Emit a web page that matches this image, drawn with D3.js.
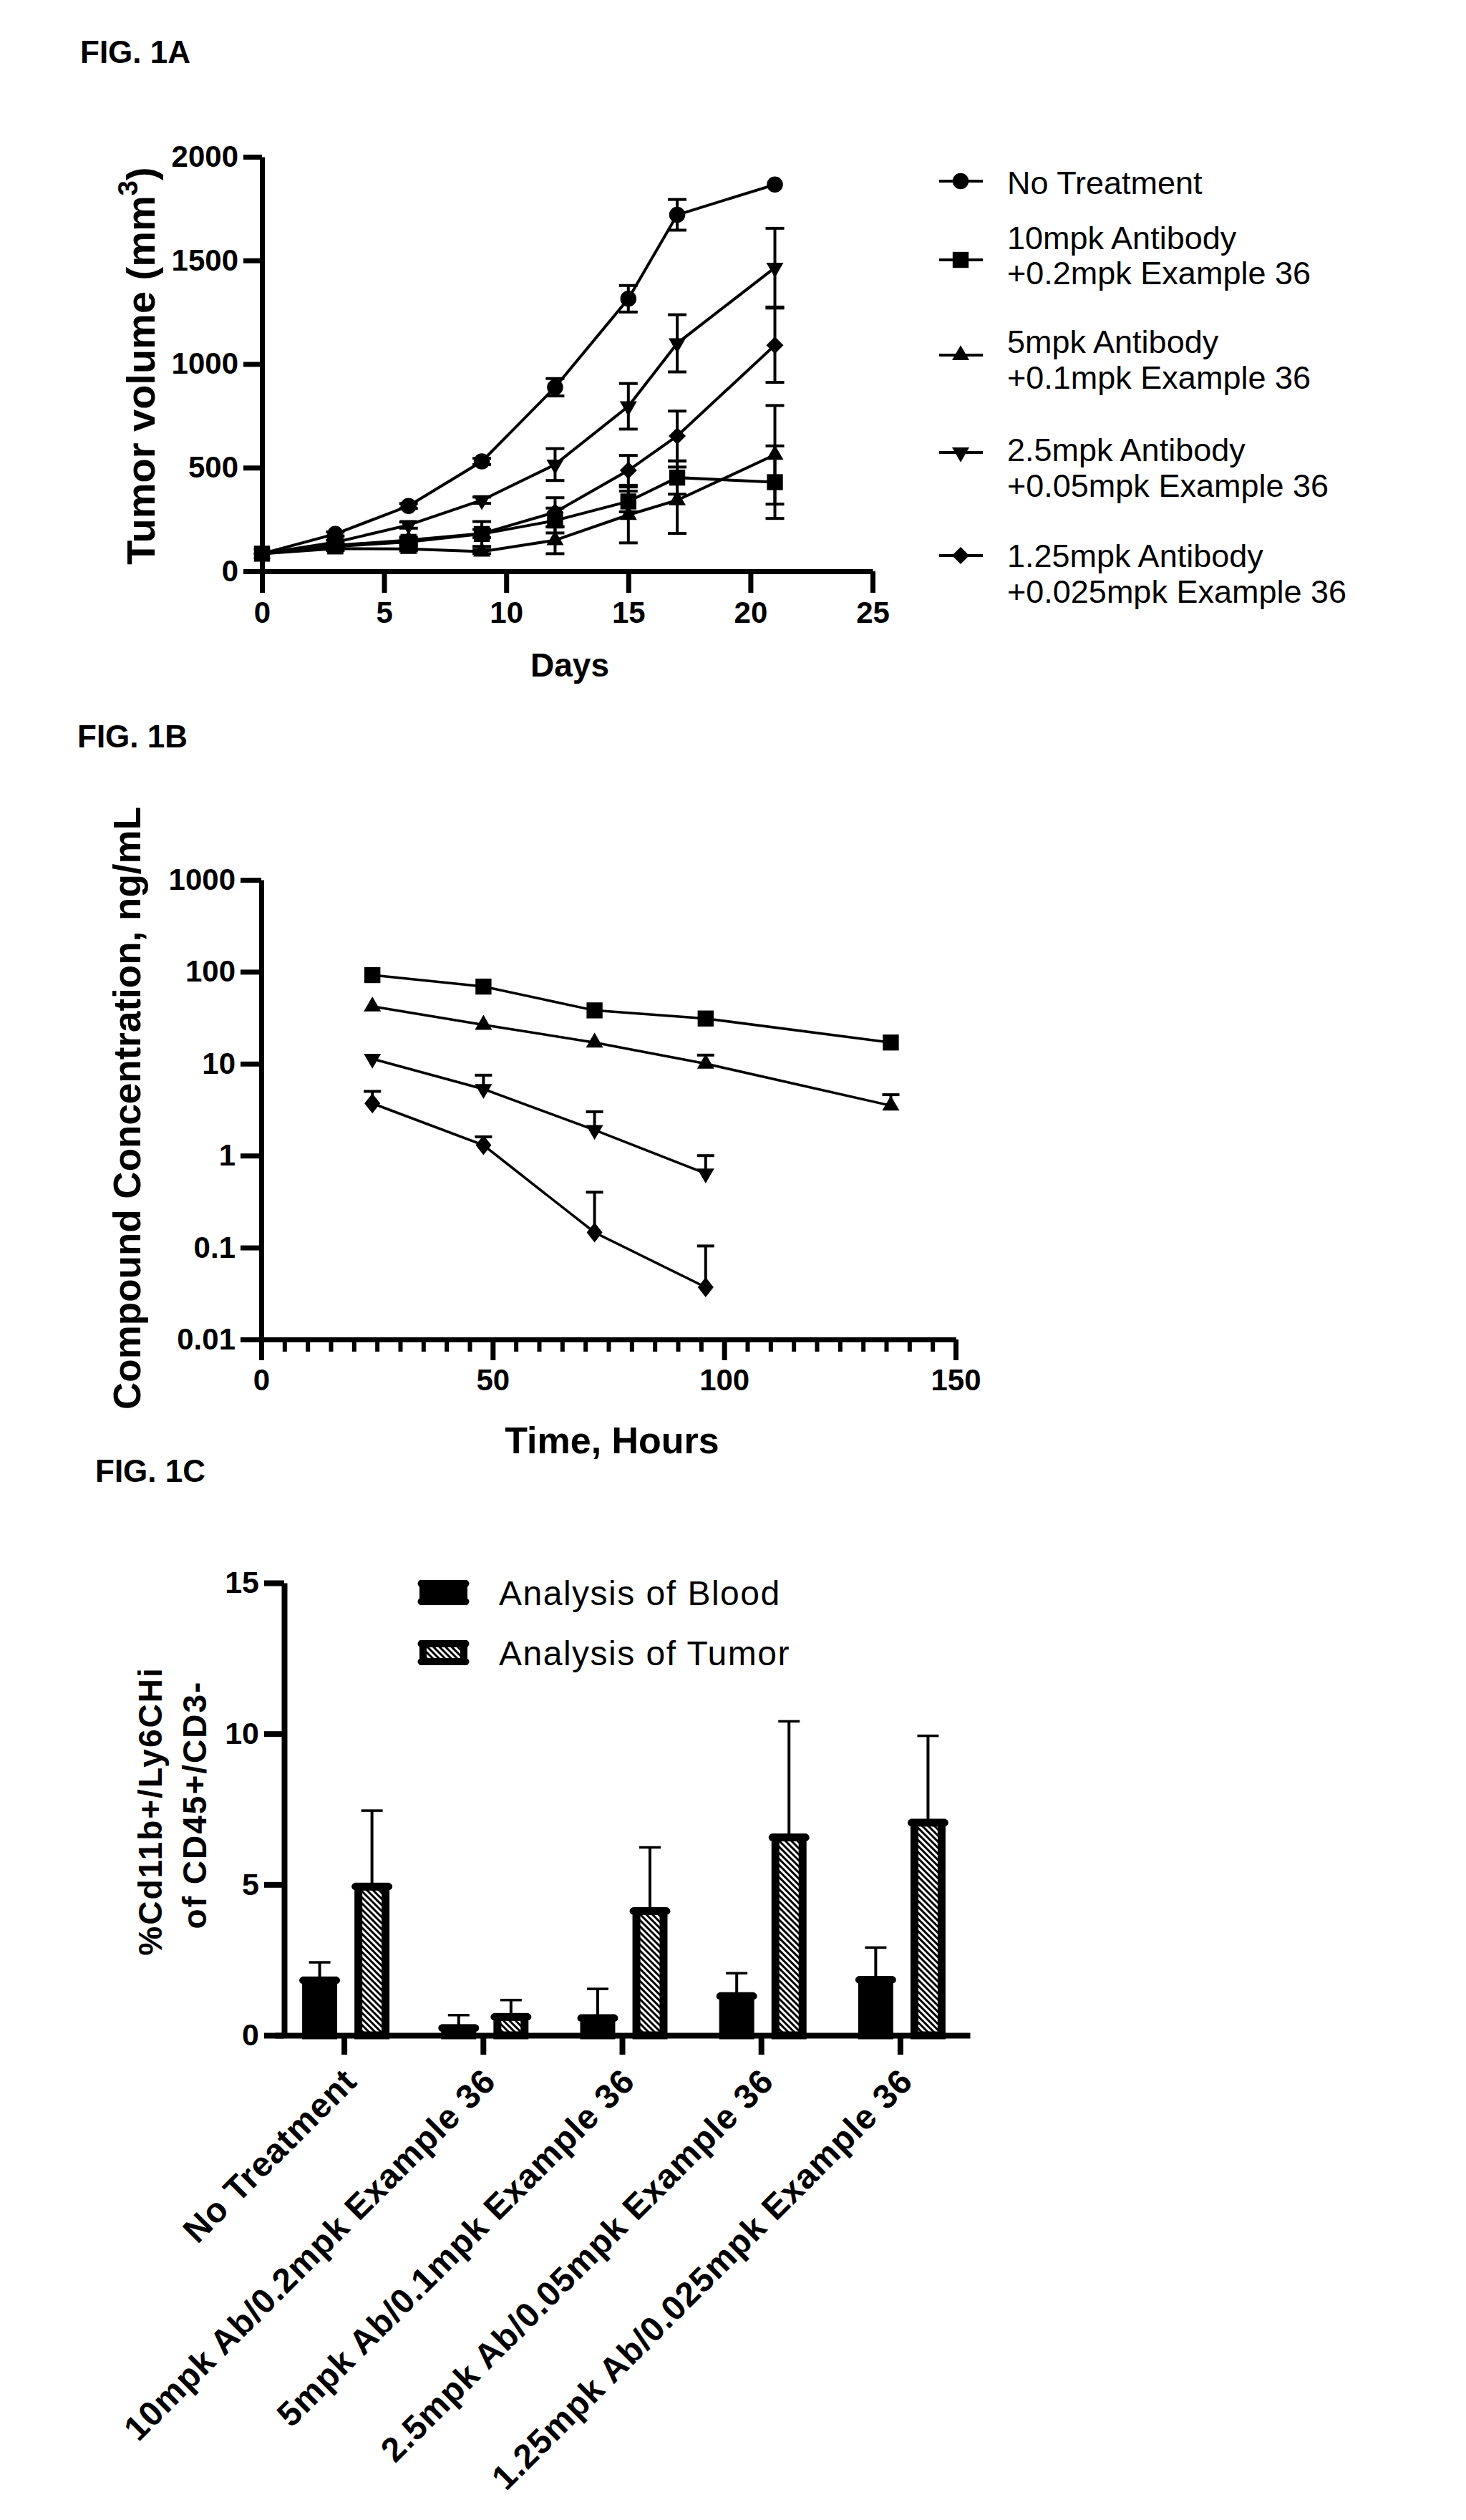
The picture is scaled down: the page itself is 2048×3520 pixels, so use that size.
<!DOCTYPE html>
<html>
<head>
<meta charset="utf-8">
<script src="https://cdn.jsdelivr.net/npm/d3@7"></script>
<style>
  body { margin: 0; background: #fff; }
  svg { display: block; }
  text { font-family: "Liberation Sans", Arial, Helvetica, sans-serif; }
</style>
</head>
<body>
<svg id="fig" width="2048" height="3520"></svg>
<script>
// ---------- FIG. 1A data (tumor volume, mm3) ----------
const days = [0, 3, 6, 9, 12, 15, 17, 21];
const noTreatment = [85, 180, 315, 530, 888, 1315, 1720, 1866];
const noTreatmentErr = [0, 10, 12, 15, 42, 64, 74, 0];
const ab10 = [85, 120, 142, 180, 245, 337, 452, 430];
const ab10Err = [0, 10, 15, 60, 60, 50, 80, 175];
const ab5 = [85, 110, 108, 95, 150, 272, 343, 562];
const ab5Err = [0, 10, 10, 10, 65, 135, 160, 238];
const ab25 = [85, 140, 223, 343, 515, 796, 1100, 1465];
const ab25Err = [0, 10, 15, 15, 77, 110, 138, 190];
const ab125 = [85, 125, 150, 182, 285, 487, 653, 1091];
const ab125Err = [0, 10, 15, 20, 70, 72, 120, 179];

const legendA = [
  ["No Treatment"],
  ["10mpk Antibody", "+0.2mpk Example 36"],
  ["5mpk Antibody", "+0.1mpk Example 36"],
  ["2.5mpk Antibody", "+0.05mpk Example 36"],
  ["1.25mpk Antibody", "+0.025mpk Example 36"]
];

// ---------- FIG. 1B data (compound concentration, ng/mL) ----------
const hours = [24, 48, 72, 96, 136];
const concSquare = [92, 69, 38, 31, 17];
const concSquareTop = [92, 69, 38, 31, 17];
const concUp = [42, 26.5, 17, 10, 3.5];
const concUpTop = [42, 26.5, 17, 12.4, 4.6];
const concDown = [11.3, 5.3, 1.9, 0.64];
const concDownTop = [11.3, 7.5, 3.0, 1.0];
const concDiamond = [3.7, 1.3, 0.146, 0.037];
const concDiamondTop = [5.0, 1.6, 0.4, 0.104];
const logTicks = [0.01, 0.1, 1, 10, 100, 1000];

// ---------- FIG. 1C data (%Cd11b+/Ly6CHi of CD45+/CD3-) ----------
const groups = ["No Treatment", "10mpk Ab/0.2mpk Example 36", "5mpk Ab/0.1mpk Example 36",
  "2.5mpk Ab/0.05mpk Example 36", "1.25mpk Ab/0.025mpk Example 36"];
const bloodMean = [1.82, 0.24, 0.57, 1.30, 1.84];
const bloodErr = [0.60, 0.43, 0.97, 0.76, 1.07];
const tumorMean = [4.93, 0.61, 4.12, 6.56, 7.05];
const tumorErr = [2.52, 0.56, 2.11, 3.85, 2.88];
const barSeries = ["Analysis of Blood", "Analysis of Tumor"];

const svg = d3.select("#fig");
svg.append("rect").attr("width", 2048).attr("height", 3520).attr("fill", "#fff");

// hatch for tumor bars
svg.append("defs").append("pattern")
  .attr("id", "hatch")
  .attr("patternUnits", "userSpaceOnUse")
  .attr("width", 6).attr("height", 6)
  .attr("patternTransform", "rotate(-45)")
  .call(p => {
    p.append("rect").attr("width", 6).attr("height", 6).attr("fill", "#fff");
    p.append("rect").attr("width", 3).attr("height", 6).attr("fill", "#000");
  });

// marker shapes
const shapes = {
  circle: d3.symbol(d3.symbolCircle, 400)(),
  square: d3.symbol(d3.symbolSquare, 500)(),
  up: d3.symbol(d3.symbolTriangle, 250)(),
  down: d3.symbol(d3.symbolTriangle, 250)(),
  diamond: "M0,-12L12,0L0,12L-12,0Z"
};
const rot = s => s === "down" ? " rotate(180)" : "";

// axis styling helper
function styleAxis(g, w, fs) {
  g.selectAll("path, line").attr("stroke", "#000").attr("stroke-width", w);
  g.selectAll("text").attr("font-size", fs).attr("font-weight", "bold").attr("fill", "#000");
}

function figTitle(txt, x, y) {
  svg.append("text").attr("x", x).attr("y", y)
    .attr("font-size", 44).attr("font-weight", "bold").text(txt);
}

// ======================= FIG. 1A =======================
figTitle("FIG. 1A", 112, 88);
const xA = d3.scaleLinear().domain([0, 25]).range([366, 1219]);
const yA = d3.scaleLinear().domain([0, 2000]).range([798, 219]);

svg.append("g").attr("transform", "translate(0,798)")
  .call(d3.axisBottom(xA).tickValues([0, 5, 10, 15, 20, 25]).tickFormat(d3.format("d"))
    .tickSize(30).tickSizeOuter(0).tickPadding(12))
  .call(g => styleAxis(g, 7, 42));
svg.append("g").attr("transform", "translate(366,0)")
  .call(d3.axisLeft(yA).tickValues([0, 500, 1000, 1500, 2000]).tickFormat(d3.format("d"))
    .tickSize(26).tickSizeOuter(0).tickPadding(7))
  .call(g => styleAxis(g, 7, 42));

svg.append("text").attr("x", 796).attr("y", 945).attr("text-anchor", "middle")
  .attr("font-size", 46).attr("font-weight", "bold").text("Days");

const yLabA = svg.append("text").attr("transform", "translate(216,511) rotate(-90)")
  .attr("text-anchor", "middle").attr("font-size", 56).attr("font-weight", "bold");
yLabA.append("tspan").text("Tumor volume (mm");
yLabA.append("tspan").attr("dy", -24).attr("font-size", 38).text("3");
yLabA.append("tspan").attr("dy", 24).text(")");

const seriesA = [
  { shape: "circle", v: noTreatment, e: noTreatmentErr },
  { shape: "square", v: ab10, e: ab10Err },
  { shape: "up", v: ab5, e: ab5Err },
  { shape: "down", v: ab25, e: ab25Err },
  { shape: "diamond", v: ab125, e: ab125Err }
];

const lineA = d3.line().x(d => xA(d[0])).y(d => yA(d[1]));
const plotA = svg.append("g");
seriesA.forEach(s => {
  const pts = days.map((d, i) => [d, s.v[i], s.e[i]]);
  plotA.append("path").datum(pts).attr("d", lineA)
    .attr("fill", "none").attr("stroke", "#000").attr("stroke-width", 4);
  const eb = plotA.append("g").attr("stroke", "#000").attr("stroke-width", 4);
  pts.filter(p => p[2] > 0).forEach(p => {
    const x = xA(p[0]);
    eb.append("line").attr("x1", x).attr("x2", x).attr("y1", yA(p[1] - p[2])).attr("y2", yA(p[1] + p[2]));
    [p[1] - p[2], p[1] + p[2]].forEach(v =>
      eb.append("line").attr("x1", x - 13).attr("x2", x + 13).attr("y1", yA(v)).attr("y2", yA(v)));
  });
  plotA.append("g").selectAll("path").data(pts).join("path")
    .attr("d", shapes[s.shape])
    .attr("transform", p => `translate(${xA(p[0])},${yA(p[1])})${rot(s.shape)}`)
    .attr("fill", "#000");
});

// legend
const legendY = [253, 363, 496, 632, 776];
const legendBase = [[271], [348, 397], [493, 543], [644, 694], [792, 842]];
legendA.forEach((lines, i) => {
  const s = seriesA[i];
  svg.append("line").attr("x1", 1312).attr("x2", 1373).attr("y1", legendY[i]).attr("y2", legendY[i])
    .attr("stroke", "#000").attr("stroke-width", 4);
  svg.append("path").attr("d", shapes[s.shape])
    .attr("transform", `translate(1342,${legendY[i]})${rot(s.shape)}`).attr("fill", "#000");
  lines.forEach((t, j) => svg.append("text").attr("x", 1407).attr("y", legendBase[i][j])
    .attr("font-size", 45).text(t));
});

// ======================= FIG. 1B =======================
figTitle("FIG. 1B", 108, 1044);
const xB = d3.scaleLinear().domain([0, 150]).range([365, 1335]);
const yB = d3.scaleLog().domain([0.01, 1000]).range([1871, 1229]);

svg.append("g").attr("transform", "translate(0,1871)")
  .call(d3.axisBottom(xB).tickValues(d3.range(5, 150, 5).filter(d => d % 50 !== 0))
    .tickFormat("").tickSize(17).tickSizeOuter(0))
  .call(g => styleAxis(g, 6, 42));
svg.append("g").attr("transform", "translate(0,1871)")
  .call(d3.axisBottom(xB).tickValues([0, 50, 100, 150]).tickSize(29).tickSizeOuter(0).tickPadding(12))
  .call(g => styleAxis(g, 7, 42));
svg.append("g").attr("transform", "translate(365,0)")
  .call(d3.axisLeft(yB).tickValues(logTicks).tickFormat(d3.format("~g")).tickSize(29).tickSizeOuter(0).tickPadding(7))
  .call(g => styleAxis(g, 7, 42));

svg.append("text").attr("x", 855).attr("y", 2030).attr("text-anchor", "middle")
  .attr("font-size", 52).attr("font-weight", "bold").text("Time, Hours");
svg.append("text").attr("transform", "translate(196,1548) rotate(-90)")
  .attr("text-anchor", "middle").attr("font-size", 53).attr("font-weight", "bold")
  .text("Compound Concentration, ng/mL");

const seriesB = [
  { shape: "square", v: concSquare, top: concSquareTop },
  { shape: "up", v: concUp, top: concUpTop },
  { shape: "down", v: concDown, top: concDownTop },
  { shape: "diamond", v: concDiamond, top: concDiamondTop }
];
const lineB = d3.line().x(d => xB(d[0])).y(d => yB(d[1]));
const plotB = svg.append("g");
seriesB.forEach(s => {
  const pts = s.v.map((v, i) => [hours[i], v, s.top[i]]);
  plotB.append("path").datum(pts).attr("d", lineB)
    .attr("fill", "none").attr("stroke", "#000").attr("stroke-width", 3.5);
  const eb = plotB.append("g").attr("stroke", "#000").attr("stroke-width", 4);
  pts.filter(p => p[2] > p[1]).forEach(p => {
    const x = xB(p[0]);
    eb.append("line").attr("x1", x).attr("x2", x).attr("y1", yB(p[1])).attr("y2", yB(p[2]));
    eb.append("line").attr("x1", x - 12).attr("x2", x + 12).attr("y1", yB(p[2])).attr("y2", yB(p[2]));
  });
  plotB.append("g").selectAll("path").data(pts).join("path")
    .attr("d", s.shape === "diamond" ? "M0,-14L11,0L0,14L-11,0Z" : shapes[s.shape])
    .attr("transform", p => `translate(${xB(p[0])},${yB(p[1])})${rot(s.shape)}`)
    .attr("fill", "#000");
});

// ======================= FIG. 1C =======================
figTitle("FIG. 1C", 133, 2070);
const xC = d3.scaleBand().domain(groups).range([384, 1355]);
const xSub = d3.scaleBand().domain(barSeries).range([-59, 63]).paddingInner(0.33);
const yC = d3.scaleLinear().domain([0, 15]).range([2843, 2211]);

const barData = groups.flatMap((g, i) => [
  { g, s: barSeries[0], v: bloodMean[i], e: bloodErr[i] },
  { g, s: barSeries[1], v: tumorMean[i], e: tumorErr[i] }
]);

const plotC = svg.append("g");
barData.forEach(d => {
  const x0 = xC(d.g) + xC.bandwidth() / 2 + xSub(d.s);
  const w = xSub.bandwidth();
  const xc = x0 + w / 2;
  // error bar (upper only)
  plotC.append("line").attr("x1", xc).attr("x2", xc).attr("y1", yC(d.v)).attr("y2", yC(d.v + d.e))
    .attr("stroke", "#000").attr("stroke-width", 4);
  plotC.append("line").attr("x1", xc - 15).attr("x2", xc + 15).attr("y1", yC(d.v + d.e)).attr("y2", yC(d.v + d.e))
    .attr("stroke", "#000").attr("stroke-width", 3.5);
  // bar body with thick outline
  plotC.append("rect").attr("x", x0 + 5.5).attr("width", w - 11)
    .attr("y", yC(d.v)).attr("height", yC(0) - yC(d.v))
    .attr("fill", d.s === barSeries[0] ? "#000" : "url(#hatch)")
    .attr("stroke", "#000").attr("stroke-width", 11);
  // rounded top edge
  plotC.append("line").attr("x1", x0 + 1).attr("x2", x0 + w - 1).attr("y1", yC(d.v)).attr("y2", yC(d.v))
    .attr("stroke", "#000").attr("stroke-width", 10).attr("stroke-linecap", "round");
});

svg.append("g").attr("transform", "translate(0,2843)")
  .call(d3.axisBottom(xC).tickFormat("").tickSize(27).tickSizeOuter(0))
  .call(g => styleAxis(g, 8, 43));
svg.append("g").attr("transform", "translate(397,0)")
  .call(d3.axisLeft(yC).tickValues([0, 5, 10, 15]).tickSize(28).tickSizeOuter(0).tickPadding(7))
  .call(g => styleAxis(g, 8, 43));

// rotated category labels
svg.append("g").selectAll("text").data(groups).join("text")
  .attr("transform", g => `translate(${xC(g) + xC.bandwidth() / 2 + 20},2910) rotate(-45)`)
  .attr("text-anchor", "end").attr("font-size", 48).attr("font-weight", "bold")
  .attr("letter-spacing", 1)
  .text(g => g);

// y label (two lines)
[["%Cd11b+/Ly6CHi", 226, 2530], ["of CD45+/CD3-", 288, 2521]].forEach(([t, x, y]) =>
  svg.append("text").attr("transform", `translate(${x},${y}) rotate(-90)`)
    .attr("text-anchor", "middle").attr("font-size", 46).attr("font-weight", "bold")
    .attr("letter-spacing", 2).text(t));

// legend
barSeries.forEach((s, i) => {
  const yTop = 2212 + i * 84;
  svg.append("rect").attr("x", 591).attr("y", yTop).attr("width", 57).attr("height", 25)
    .attr("fill", i === 0 ? "#000" : "url(#hatch)").attr("stroke", "#000").attr("stroke-width", 10);
  [yTop, yTop + 25].forEach(y => svg.append("line").attr("x1", 588).attr("x2", 651).attr("y1", y).attr("y2", y)
    .attr("stroke", "#000").attr("stroke-width", 9).attr("stroke-linecap", "round"));
  svg.append("text").attr("x", 697).attr("y", 2242 + i * 84).attr("font-size", 48)
    .attr("letter-spacing", 1.5).text(s);
});
</script>
</body>
</html>
